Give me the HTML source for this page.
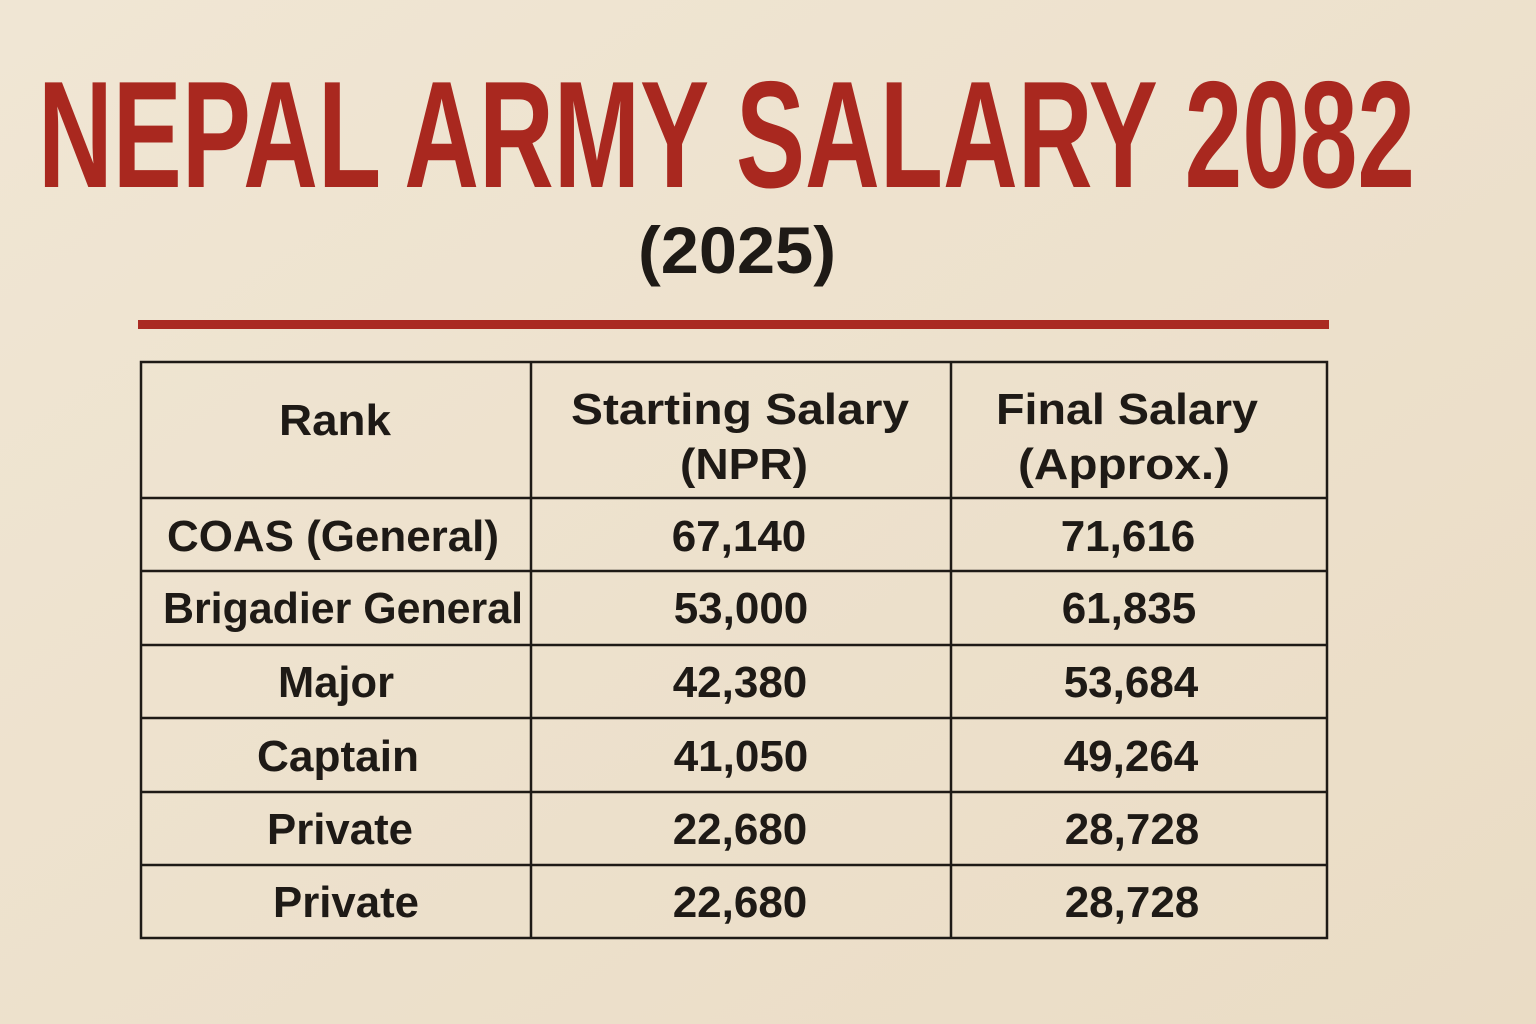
<!DOCTYPE html>
<html><head><meta charset="utf-8"><style>
html,body{margin:0;padding:0;width:1536px;height:1024px;overflow:hidden;background:#eee3d0;}
svg{display:block}
text{font-family:"Liberation Sans",sans-serif;}
</style></head><body>
<svg width="1536" height="1024" viewBox="0 0 1536 1024">
<defs><linearGradient id="bg" x1="0" y1="0" x2="1" y2="1"><stop offset="0" stop-color="#f0e6d4"/><stop offset="1" stop-color="#eadcc5"/></linearGradient></defs>
<rect width="1536" height="1024" fill="url(#bg)"/>
<text x="38" y="187" font-size="152" font-weight="bold" fill="#a9281f" textLength="1377" lengthAdjust="spacingAndGlyphs">NEPAL ARMY SALARY 2082</text>
<text x="737" y="273" font-size="66" font-weight="bold" fill="#1e1a16" text-anchor="middle" textLength="198" lengthAdjust="spacingAndGlyphs">(2025)</text>
<rect x="138" y="320" width="1191" height="9" fill="#aa2a22"/>
<g fill="none" stroke="#1e1a16" stroke-width="2.5">
<rect x="141" y="362" width="1186" height="576"/>
<line x1="531" y1="362" x2="531" y2="938"/>
<line x1="951" y1="362" x2="951" y2="938"/>
<line x1="141" y1="498" x2="1327" y2="498"/>
<line x1="141" y1="571" x2="1327" y2="571"/>
<line x1="141" y1="645" x2="1327" y2="645"/>
<line x1="141" y1="718" x2="1327" y2="718"/>
<line x1="141" y1="792" x2="1327" y2="792"/>
<line x1="141" y1="865" x2="1327" y2="865"/>
</g>
<g font-size="44" font-weight="bold" fill="#1e1a16" text-anchor="middle">
<text x="335" y="435" textLength="112" lengthAdjust="spacingAndGlyphs">Rank</text>
<text x="740" y="424" textLength="338" lengthAdjust="spacingAndGlyphs">Starting Salary</text>
<text x="744" y="479" textLength="128" lengthAdjust="spacingAndGlyphs">(NPR)</text>
<text x="1127" y="424" textLength="262" lengthAdjust="spacingAndGlyphs">Final Salary</text>
<text x="1124" y="479" textLength="212" lengthAdjust="spacingAndGlyphs">(Approx.)</text>
<text x="333" y="551" textLength="332" lengthAdjust="spacingAndGlyphs">COAS (General)</text>
<text x="343" y="623" textLength="360" lengthAdjust="spacingAndGlyphs">Brigadier General</text>
<text x="336" y="697" textLength="116" lengthAdjust="spacingAndGlyphs">Major</text>
<text x="338" y="771" textLength="162" lengthAdjust="spacingAndGlyphs">Captain</text>
<text x="340" y="844" textLength="146" lengthAdjust="spacingAndGlyphs">Private</text>
<text x="346" y="917" textLength="146" lengthAdjust="spacingAndGlyphs">Private</text>
<text x="739" y="551">67,140</text>
<text x="741" y="623">53,000</text>
<text x="740" y="697">42,380</text>
<text x="741" y="771">41,050</text>
<text x="740" y="844">22,680</text>
<text x="740" y="917">22,680</text>
<text x="1128" y="551">71,616</text>
<text x="1129" y="623">61,835</text>
<text x="1131" y="697">53,684</text>
<text x="1131" y="771">49,264</text>
<text x="1132" y="844">28,728</text>
<text x="1132" y="917">28,728</text>
</g>
</svg>
</body></html>
